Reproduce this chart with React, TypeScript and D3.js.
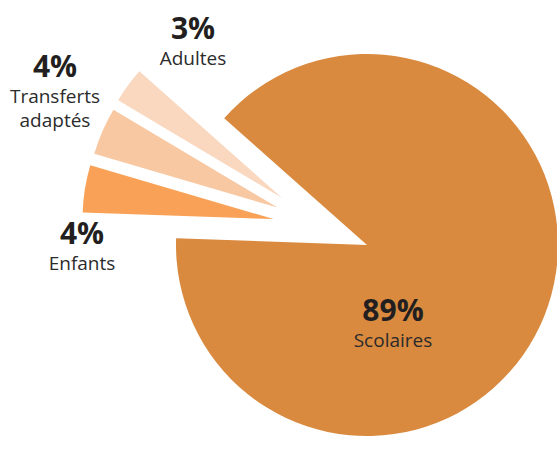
import React from "react";
import * as d3 from "d3";

const categories = ["Enfants", "Transferts adaptés", "Adultes", "Scolaires"];
const values = [4, 4, 3, 89];
const percentLabels = ["4%", "4%", "3%", "89%"];
const nameLines = [["Enfants"], ["Transferts", "adaptés"], ["Adultes"], ["Scolaires"]];
const colors = ["#F9A257", "#F7C8A2", "#F9D8BF", "#D98A3F"];
const exploded = [true, true, true, false];

const W = 557;
const H = 452;
const cx = 367;
const cy = 245;
const R = 191;
const explodeDist = 97;
const startDeg = 272;

// label anchors (center x, percent baseline)
const labelPos = [
  [82, 244],
  [55, 77],
  [193, 39],
  [393, 321],
];

export default function App() {
  const start = (startDeg * Math.PI) / 180;
  const pie = d3
    .pie<number>()
    .sort(null)
    .startAngle(start)
    .endAngle(start + 2 * Math.PI);
  const arcs = pie(values);
  const arc = d3.arc<d3.PieArcDatum<number>>().innerRadius(0).outerRadius(R);

  const explodedArcs = arcs.filter((_, i) => exploded[i]);
  const groupMid =
    (explodedArcs[0].startAngle + explodedArcs[explodedArcs.length - 1].endAngle) / 2;

  return (
    <svg
      width={W}
      height={H}
      style={{ position: "absolute", left: 0, top: 0, background: "#fff" }}
      fontFamily="'Open Sans', 'Noto Sans', sans-serif"
    >
      <g transform={`translate(${cx},${cy})`}>
        {arcs.map((a, i) => {
          let tx = 0;
          let ty = 0;
          if (exploded[i]) {
            const mid = (a.startAngle + a.endAngle) / 2;
            const dir = groupMid + (mid - groupMid) * 0.5;
            tx = Math.sin(dir) * explodeDist;
            ty = -Math.cos(dir) * explodeDist;
          }
          return (
            <path
              key={categories[i]}
              d={arc(a) || ""}
              fill={colors[i]}
              transform={`translate(${tx},${ty})`}
            />
          );
        })}
      </g>
      {categories.map((c, i) => {
        const [x, y] = labelPos[i];
        return (
          <g key={c}>
            <text
              x={x}
              y={y}
              textAnchor="middle"
              fontWeight="bold"
              fontSize={30}
              fill="#231F20"
            >
              {percentLabels[i]}
            </text>
            {nameLines[i].map((line, j) => (
              <text
                key={line}
                x={x}
                y={y + 26 + j * 24}
                textAnchor="middle"
                fontSize={19}
                fill="#2b2b2b"
              >
                {line}
              </text>
            ))}
          </g>
        );
      })}
    </svg>
  );
}
